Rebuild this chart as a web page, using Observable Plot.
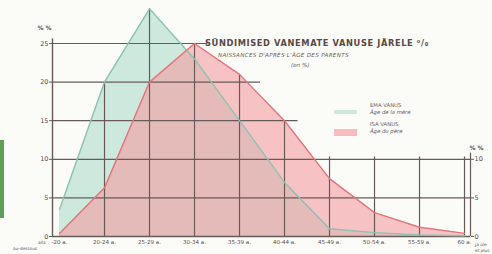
<!DOCTYPE html>
<html><head><meta charset="utf-8">
<script src="https://cdn.jsdelivr.net/npm/d3@7"></script>
<script src="https://cdn.jsdelivr.net/npm/@observablehq/plot@0.6"></script>
<style>
html,body{margin:0;padding:0;background:#fbfbf8;}
#wrap{position:relative;width:492px;height:254px;overflow:hidden;font-family:"DejaVu Sans",sans-serif;color:#5a4c4a;}
#wrap svg{position:absolute;left:0;top:0;}
.t{position:absolute;white-space:nowrap;}
</style></head>
<body><div id="wrap"></div>
<script>
// Data
const ages = ["-20 a.", "20-24 a.", "25-29 a.", "30-34 a.", "35-39 a.", "40-44 a.", "45-49 a.", "50-54 a.", "55-59 a.", "60 a."];
const mother = [3.5, 20, 29.5, 23, 15, 7, 1, 0.5, 0.2, 0.1];   // EMA VANUS
const father = [0.4, 6.3, 20, 25, 21, 15, 7.5, 3.1, 1.2, 0.4]; // ISA VANUS
const leftTicks = [0, 5, 10, 15, 20, 25];
const rightTicks = [0, 5, 10];
const gridLevels = [5, 10, 15, 20, 25];

const idx = ages.map((_, i) => i);
const env = idx.map(i => Math.max(mother[i], father[i]));
const xDom = [-0.156, 9.133];
function reach(L) {
  if (L <= 10) return xDom[1];
  let last = 0;
  for (let i = 0; i < env.length; i++) if (env[i] >= L) last = i;
  const t = last < env.length - 1 ? (env[last] - L) / (env[last] - env[last + 1]) : 0;
  return last + t + 0.3;
}
const mRows = idx.map(i => ({i, v: mother[i]}));
const fRows = idx.map(i => ({i, v: father[i]}));
const grid = "#685a57";

const chart = Plot.plot({
  width: 492, height: 254,
  marginLeft: 52, marginRight: 22, marginTop: 0, marginBottom: 18,
  x: {domain: xDom, axis: null},
  y: {domain: [0, 30.57], axis: null},
  style: {background: "transparent", fontFamily: "DejaVu Sans"},
  marks: [
    Plot.areaY(mRows, {x: "i", y: "v", fill: "#cde9dd", curve: "linear"}),
    Plot.areaY(fRows, {x: "i", y: "v", fill: "#f29ea3", fillOpacity: 0.62, curve: "linear"}),
    Plot.ruleY(gridLevels, {x1: xDom[0], x2: d => reach(d), stroke: grid, strokeWidth: 1.2}),
    Plot.ruleY([0], {x1: xDom[0], x2: xDom[1], stroke: grid, strokeWidth: 1.3}),
    Plot.ruleX(idx.slice(1), {y1: 0, y2: i => Math.max(env[i], 10.3), stroke: grid, strokeWidth: 1.2}),
    Plot.ruleX([xDom[0]], {y1: 0, y2: 25.6, stroke: grid, strokeWidth: 1.4}),
    Plot.ruleX([xDom[1]], {y1: 0, y2: 10.8, stroke: grid, strokeWidth: 1.2}),
    Plot.line(mRows, {x: "i", y: "v", stroke: "#8cc3b3", strokeWidth: 1.4}),
    Plot.line(fRows, {x: "i", y: "v", stroke: "#e2767e", strokeWidth: 1.4}),
    Plot.axisY(leftTicks, {anchor: "left", label: null, tickSize: 3, tickPadding: 1, fontSize: 6.5, color: "#5a4c4a", stroke: grid}),
    Plot.axisY(rightTicks, {anchor: "right", label: null, tickSize: 3, tickPadding: 1, fontSize: 6.5, color: "#5a4c4a", stroke: grid}),
    Plot.axisX(idx, {anchor: "bottom", label: null, tickSize: 0, tickPadding: 4, fontSize: 5.5, color: "#5a4c4a", tickFormat: i => ages[i]}),
    Plot.text(["% %"], {x: xDom[0], y: 27, dx: -8, fontSize: 6, fontWeight: "bold", fill: "#5a4c4a"}),
    Plot.text(["% %"], {x: xDom[1], y: 11.5, dx: 6, fontSize: 6, fontWeight: "bold", fill: "#5a4c4a"})
  ]
});
const wrap = document.getElementById("wrap");
wrap.appendChild(chart);

function label(txt, css) {
  const d = document.createElement("div");
  d.className = "t"; d.textContent = txt; d.style.cssText += css;
  wrap.appendChild(d);
}
// scan artefact on the left edge
const bar = document.createElement("div");
bar.style.cssText = "position:absolute;left:0;top:140px;width:4px;height:78px;background:#5f9e56;";
wrap.appendChild(bar);

label("SÜNDIMISED VANEMATE VANUSE JÄRELE ⁰/₀", "left:205px;top:38px;font-size:8.3px;font-weight:bold;letter-spacing:0.6px;color:#584845;");
label("NAISSANCES D'APRÈS L'ÂGE DES PARENTS", "left:218px;top:52px;font-size:5.6px;font-style:italic;letter-spacing:0.3px;color:#6a5a58;");
label("(en %)", "left:291px;top:62px;font-size:5.6px;font-style:italic;color:#6a5a58;");

const sw1 = document.createElement("div");
sw1.style.cssText = "position:absolute;left:334px;top:110px;width:23px;height:4px;background:#cde9dd;";
wrap.appendChild(sw1);
const sw2 = document.createElement("div");
sw2.style.cssText = "position:absolute;left:334px;top:129px;width:23px;height:7px;background:#f6bcc0;";
wrap.appendChild(sw2);
label("EMA VANUS", "left:370px;top:102px;font-size:5.3px;color:#6a5a58;");
label("Âge de la mère", "left:370px;top:109px;font-size:5.3px;font-style:italic;color:#6a5a58;");
label("ISA VANUS", "left:370px;top:121px;font-size:5.3px;color:#6a5a58;");
label("Âge du père", "left:370px;top:128px;font-size:5.3px;font-style:italic;color:#6a5a58;");

label("alla", "left:38px;top:240px;font-size:4.3px;color:#6a5a58;");
label("au-dessous", "left:13px;top:246px;font-size:4.3px;color:#6a5a58;");
label("ja üle", "left:475px;top:242px;font-size:4.3px;color:#6a5a58;");
label("et plus", "left:475px;top:248px;font-size:4.3px;color:#6a5a58;");
</script></body></html>
